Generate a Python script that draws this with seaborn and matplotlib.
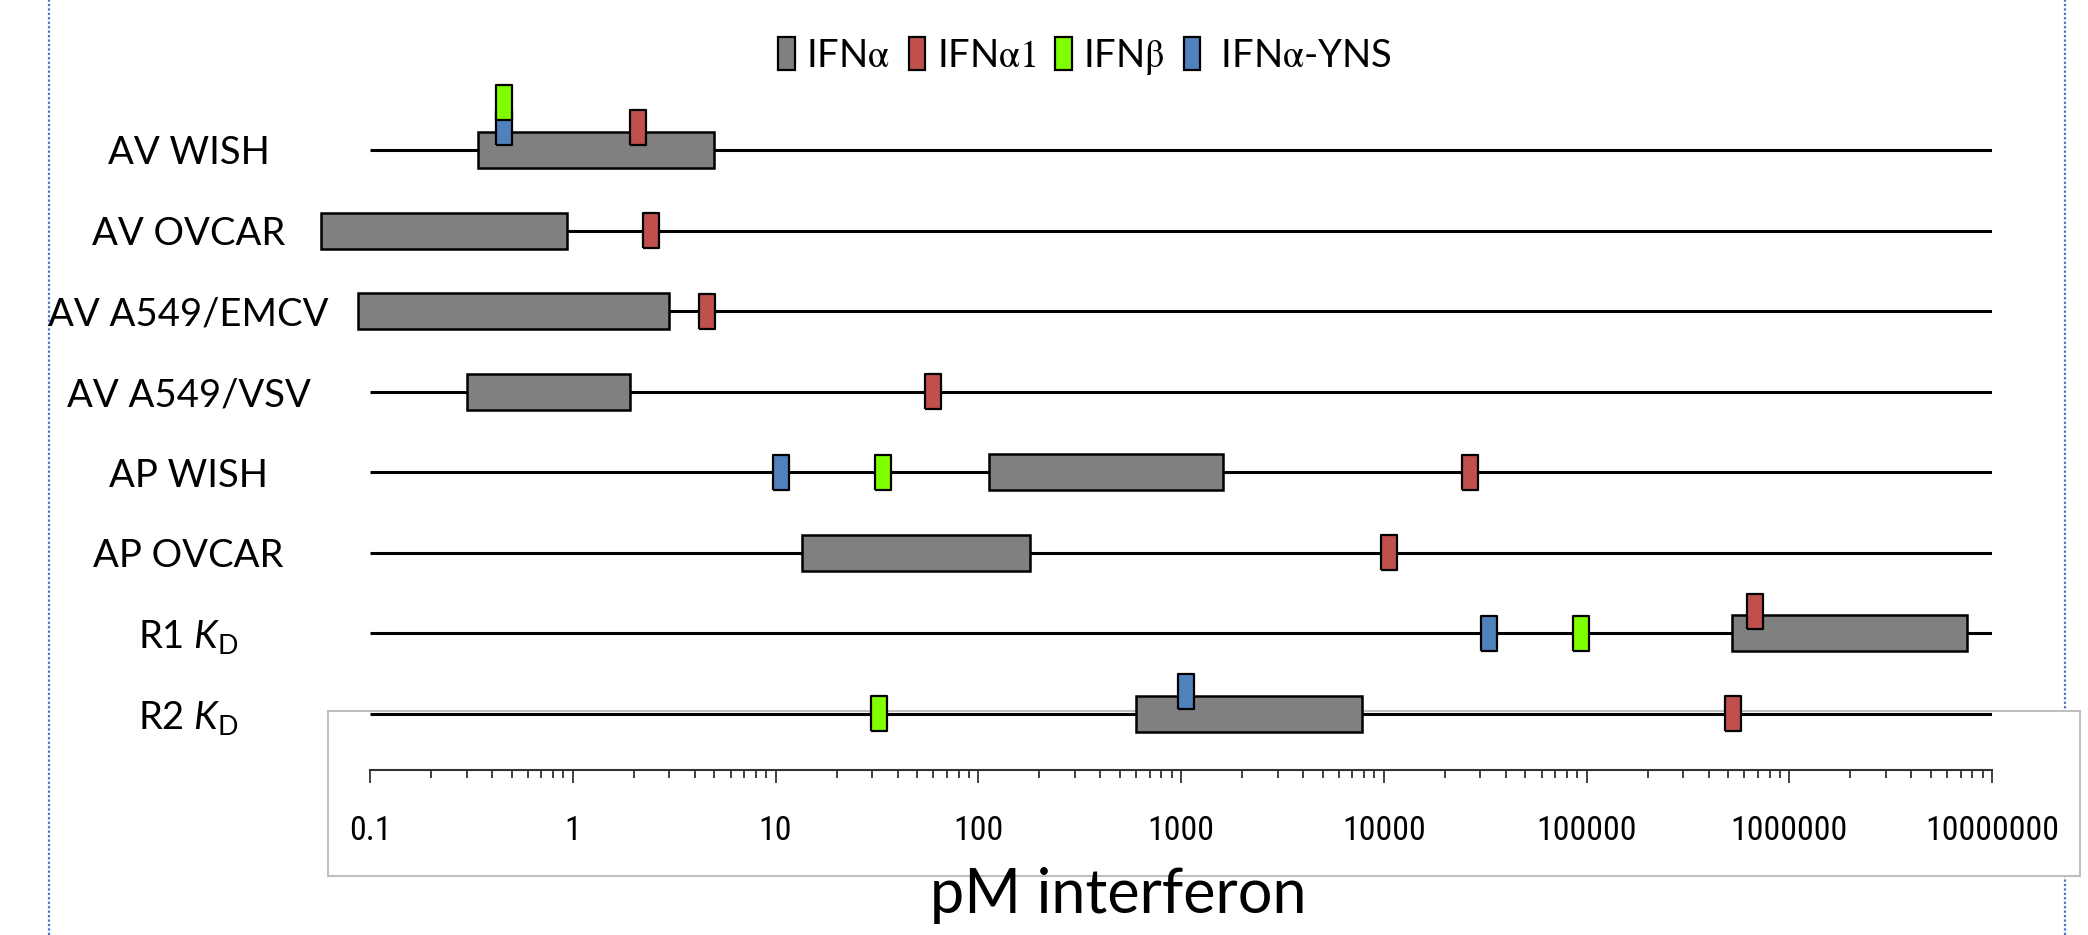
import numpy as np
import pandas as pd
import matplotlib
matplotlib.use("Agg")
import matplotlib.pyplot as plt
import seaborn as sns
from matplotlib import font_manager
from matplotlib.patches import Rectangle, Patch
from matplotlib.lines import Line2D
from matplotlib.markers import MarkerStyle
from matplotlib.ticker import LogLocator, NullFormatter

# ---------------- data ----------------
rows = ["AV WISH", "AV OVCAR", "AV A549/EMCV", "AV A549/VSV",
        "AP WISH", "AP OVCAR", r"R1 $K_{\mathrm{D}}$", r"R2 $K_{\mathrm{D}}$"]
ifna_low = [0.34, 0.057, 0.087, 0.30, 113, 13.5, 5.2e5, 600]
ifna_high = [5.0, 0.94, 3.0, 1.92, 1620, 181, 7.5e6, 7800]
ifna1 = [2.1, 2.44, 4.6, 60, 26700, 10600, 6.8e5, 5.3e5]
ifnb = [0.46, np.nan, np.nan, np.nan, 33.8, np.nan, 9.4e4, 32.4]
ifna_yns = [0.46, np.nan, np.nan, np.nan, 10.7, np.nan, 3.3e4, 1060]
tick_values = [0.1, 1, 10, 100, 1000, 1e4, 1e5, 1e6, 1e7]
tick_labels = ["0.1", "1", "10", "100", "1000", "10000", "100000", "1000000", "10000000"]
legend_labels = [r"IFN$\mathrm{\alpha}$", r"IFN$\mathrm{\alpha1}$", r"IFN$\mathrm{\beta}$",
                 r" IFN$\mathrm{\alpha}$-YNS"]
xlabel = "pM interferon"

# ---------------- style ----------------
C_GRAY, C_RED, C_GREEN, C_BLUE = "#808080", "#C0504D", "#7FFF00", "#4F81BD"

sns.set_theme(style="white")
plt.rcParams["font.family"] = ["Lato", "DejaVu Sans"]
plt.rcParams["text.color"] = "black"
plt.rcParams["xtick.color"] = "black"
plt.rcParams["ytick.color"] = "black"
plt.rcParams["mathtext.fontset"] = "custom"
plt.rcParams["mathtext.rm"] = "Lato"
plt.rcParams["mathtext.it"] = "Lato:italic"
plt.rcParams["mathtext.bf"] = "Lato:bold"

names = {f.name for f in font_manager.fontManager.ttflist}
narrow = None
for n in ["Liberation Sans Narrow", "Roboto Condensed", "Open Sans Condensed"]:
    if n in names:
        narrow = n
        break
if narrow:
    tick_font = font_manager.FontProperties(family=narrow, size=24.5)
else:
    tick_font = font_manager.FontProperties(family="DejaVu Sans", stretch="condensed", size=21)

W, H = 2088, 935
fig = plt.figure(figsize=(W / 100, H / 100), dpi=100)
fig.patch.set_facecolor("white")

# geometry in pixels
x0_px, x1_px = 370, 1992
row0_px, row_step = 150, 80.57
spine_px = 770
ax = fig.add_axes([x0_px / W, 1 - spine_px / H, (x1_px - x0_px) / W, spine_px / H])
ax.set_facecolor("none")
ax.set_zorder(1)

ax.set_xscale("log")
ax.set_xlim(tick_values[0], tick_values[-1])
ax.set_ylim((spine_px - row0_px) / row_step, -row0_px / row_step)

ypos = np.arange(len(rows))

# row baselines
ax.hlines(ypos, tick_values[0], tick_values[-1], color="black", lw=2.2, zorder=2)

# IFNalpha ranges
lo = np.array(ifna_low)
hi = np.array(ifna_high)
ax.barh(ypos, hi - lo, left=lo, height=36 / row_step, color=C_GRAY,
        edgecolor="black", linewidth=1.8, clip_on=False, zorder=3)

# markers (lifted when sitting on the grey range, stacked if coincident)
records = []
for name, vals, col in [("IFNa1", ifna1, C_RED), ("IFNa-YNS", ifna_yns, C_BLUE), ("IFNb", ifnb, C_GREEN)]:
    for i, v in enumerate(vals):
        if np.isnan(v):
            continue
        records.append(dict(series=name, value=v, row=i, color=col))
df = pd.DataFrame(records)
lift = []
placed = {}
for _, r in df.iterrows():
    inside = ifna_low[r.row] <= r.value <= ifna_high[r.row]
    key = (r.row, round(np.log10(r.value), 2))
    n_prev = placed.get(key, 0)
    placed[key] = n_prev + 1
    off = 0.0
    if inside:
        off = 0.275 + 0.31 * n_prev
    lift.append(off)
df["y"] = df["row"] - np.array(lift)

hh, ww = 1.0, 0.457
verts = [(-ww, -hh), (ww, -hh), (ww, hh), (-ww, hh), (-ww, -hh)]
mk = MarkerStyle(verts)
palette = {"IFNa1": C_RED, "IFNa-YNS": C_BLUE, "IFNb": C_GREEN}
sns.scatterplot(data=df, x="value", y="y", hue="series", palette=palette,
                marker=mk, s=635, edgecolor="black", linewidth=1.6,
                legend=False, ax=ax, zorder=4, clip_on=False)

# axes cosmetics
for s in ["left", "right", "top"]:
    ax.spines[s].set_visible(False)
ax.spines["bottom"].set_color("#333333")
ax.spines["bottom"].set_linewidth(1.5)
ax.set_xticks(tick_values)
ax.set_xticklabels(tick_labels, fontproperties=tick_font, color="black")
ax.xaxis.set_minor_locator(LogLocator(base=10, subs=np.arange(2, 10)))
ax.xaxis.set_minor_formatter(NullFormatter())
ax.tick_params(axis="x", which="major", direction="out", length=9.5, width=1.3,
               color="#333333", pad=23, bottom=True)
ax.tick_params(axis="x", which="minor", direction="out", length=6, width=1.3,
               color="#333333", bottom=True)
ax.set_yticks(ypos)
ax.set_yticklabels(rows, fontsize=27.5, color="black")
ax.tick_params(axis="y", which="both", left=False, pad=(x0_px - 197) * 0.72)
for lab in ax.get_yticklabels():
    lab.set_horizontalalignment("center")
ax.set_xlabel("")
ax.set_ylabel("")
ax.grid(False)

# frame around the axis region
frame = Rectangle((328 / W, 1 - 876 / H), (2080 - 328) / W, (876 - 711) / H,
                  transform=fig.transFigure, facecolor="white", edgecolor="#BFBFBF",
                  linewidth=1.5, zorder=-1)
fig.patches.append(frame)

# dotted page guides
for xp in [49, 2065]:
    fig.add_artist(Line2D([xp / W, xp / W], [0, 1], transform=fig.transFigure,
                          color="#4472C4", lw=1.6, linestyle=(0, (1, 1)), zorder=-2))

# x label
fig.text(1118 / W, 1 - 895 / H, xlabel, fontsize=44, ha="center", va="center", color="black")

# legend
handles = [Patch(facecolor=c, edgecolor="black", linewidth=1.6)
           for c in [C_GRAY, C_RED, C_GREEN, C_BLUE]]
leg_font = font_manager.FontProperties(family="Lato", size=27.5, math_fontfamily="stix")
leg = fig.legend(handles, legend_labels, loc="center", bbox_to_anchor=(1085 / W, 1 - 57 / H),
                 ncol=4, frameon=False, prop=leg_font, handlelength=0.43, handleheight=0.95,
                 handletextpad=0.3, columnspacing=0.5, borderaxespad=0)
for t in leg.get_texts():
    t.set_color("black")

fig.savefig("out.png", dpi=100, facecolor="white")
